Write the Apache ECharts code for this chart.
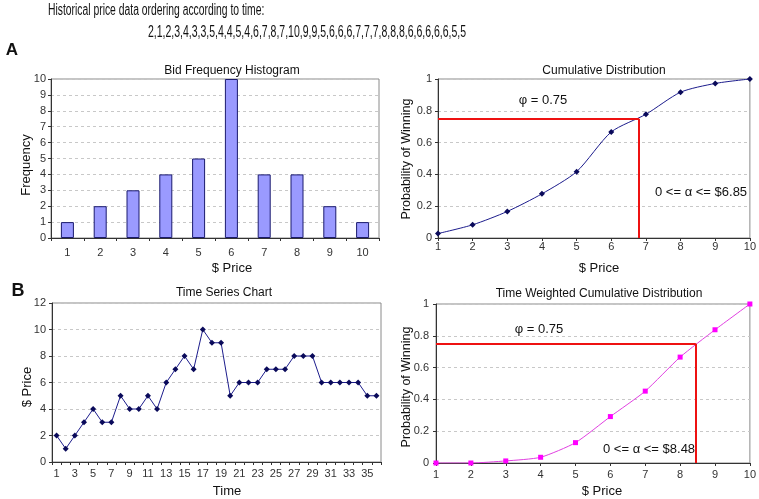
<!DOCTYPE html>
<html><head><meta charset="utf-8">
<script src="https://cdn.jsdelivr.net/npm/echarts@6/dist/echarts.min.js"></script>
<style>html,body{margin:0;padding:0;background:#fff}#c{width:759px;height:499px}</style>
</head><body><div id="c"></div>
<script>
const histCategories = ['1','2','3','4','5','6','7','8','9','10'];
const histFreq = [1,2,3,4,5,10,4,4,2,1];
const priceLevels = [1,2,3,4,5,6,7,8,9,10];
const cumProb = [0.028,0.083,0.167,0.278,0.417,0.667,0.778,0.917,0.972,1];
const timeLabels = ['1','2','3','4','5','6','7','8','9','10','11','12','13','14','15','16','17','18','19','20','21','22','23','24','25','26','27','28','29','30','31','32','33','34','35','36'];
const timePrices = [2,1,2,3,4,3,3,5,4,4,5,4,6,7,8,7,10,9,9,5,6,6,6,7,7,7,8,8,8,6,6,6,6,6,5,5];
const twCumProb = [0,0,0.013,0.036,0.128,0.292,0.452,0.666,0.838,1];
const phi = 0.75;
const alphaCum = 6.8;
const alphaTw = 8.45;
const headerText = 'Historical price data ordering according to time:';
const seqText = '2,1,2,3,4,3,3,5,4,4,5,4,6,7,8,7,10,9,9,5,6,6,6,7,7,7,8,8,8,6,6,6,6,6,5,5';

const FONT = '"Liberation Sans", Arial, sans-serif';
const grids = [
  {left:51, top:79, width:328, height:159},
  {left:438, top:79, width:320, height:159},
  {left:52, top:303, width:329, height:159},
  {left:436, top:304, width:321, height:159}
];
grids.forEach(g => { g.show = true; g.borderColor = '#8a8a8a'; g.borderWidth = 1; g.backgroundColor = 'transparent'; });

const axisLineStyle = {lineStyle:{color:'#333', width:1}};
const splitDash = {show:true, lineStyle:{color:'#c8c8c8', type:[3,3], width:1}};
const lbl = (margin) => ({color:'#333', fontSize:11, fontFamily:FONT, margin});

function pairs(xs, ys){ return xs.map((x,i)=>[x, ys[i]]); }

function redLines(a){
  return {
    silent:true, symbol:['none','none'], animation:false,
    label:{show:false},
    lineStyle:{color:'#ee1111', width:2, type:'solid'},
    data:[
      [{coord:[1, phi]},{coord:[a, phi]}],
      [{coord:[a, 0]},{coord:[a, phi]}]
    ]
  };
}

function txt(x, y, text, size, opts){
  opts = opts || {};
  return {
    type:'text', x, y, rotation: opts.rot || 0, scaleX: opts.sx || 1, scaleY: opts.sy || 1,
    style:{text, x:0, y:0, fill:'#111', font:(opts.bold?'bold ':'') + size + 'px ' + FONT,
      textAlign: opts.align || 'center', textVerticalAlign:'middle'}
  };
}

const option = {
  animation:false,
  grid: grids,
  xAxis: [
    {gridIndex:0, type:'category', data:histCategories, boundaryGap:true,
      axisLine:axisLineStyle, axisTick:{show:true, length:3, lineStyle:{color:'#333'}},
      axisLabel:lbl(9), splitLine:{show:false}},
    {gridIndex:1, type:'value', min:1, max:10, interval:1,
      axisLine:axisLineStyle, axisTick:{show:true, length:3, lineStyle:{color:'#333'}},
      axisLabel:lbl(3), splitLine:{show:false}},
    {gridIndex:2, type:'category', data:timeLabels, boundaryGap:true,
      axisLine:axisLineStyle, axisTick:{show:true, interval:0, length:3, lineStyle:{color:'#333'}},
      axisLabel:Object.assign(lbl(6), {interval:1}), splitLine:{show:false}},
    {gridIndex:3, type:'value', min:1, max:10, interval:1,
      axisLine:axisLineStyle, axisTick:{show:true, length:3, lineStyle:{color:'#333'}},
      axisLabel:lbl(6), splitLine:{show:false}}
  ],
  yAxis: [
    {gridIndex:0, type:'value', min:0, max:10, interval:1,
      axisLine:Object.assign({show:true}, axisLineStyle), axisTick:{show:true, length:3, lineStyle:{color:'#333'}},
      axisLabel:lbl(5), splitLine:splitDash},
    {gridIndex:1, type:'value', min:0, max:1, interval:0.2,
      axisLine:Object.assign({show:true}, axisLineStyle), axisTick:{show:true, length:3, lineStyle:{color:'#333'}},
      axisLabel:lbl(6), splitLine:splitDash},
    {gridIndex:2, type:'value', min:0, max:12, interval:2,
      axisLine:Object.assign({show:true}, axisLineStyle), axisTick:{show:true, length:3, lineStyle:{color:'#333'}},
      axisLabel:lbl(6), splitLine:splitDash},
    {gridIndex:3, type:'value', min:0, max:1, interval:0.2,
      axisLine:Object.assign({show:true}, axisLineStyle), axisTick:{show:true, length:3, lineStyle:{color:'#333'}},
      axisLabel:lbl(7), splitLine:splitDash}
  ],
  series: [
    {type:'bar', xAxisIndex:0, yAxisIndex:0, data:histFreq, barWidth:13,
      itemStyle:{color:'#9a9aff', borderColor:'#1a1a6e', borderWidth:1}},
    {type:'line', xAxisIndex:1, yAxisIndex:1, data:pairs(priceLevels, cumProb),
      smooth:0.25, symbol:'diamond', symbolSize:6, lineStyle:{color:'#1c1c8c', width:1},
      itemStyle:{color:'#0a0a5a'}, markLine:redLines(alphaCum)},
    {type:'line', xAxisIndex:2, yAxisIndex:2, data:timePrices,
      symbol:'diamond', symbolSize:6, lineStyle:{color:'#1c1c8c', width:1},
      itemStyle:{color:'#0a0a5a'}},
    {type:'line', xAxisIndex:3, yAxisIndex:3, data:pairs(priceLevels, twCumProb),
      smooth:0.2, symbol:'rect', symbolSize:5, lineStyle:{color:'#e040e0', width:1},
      itemStyle:{color:'#ff00ff'}, markLine:redLines(alphaTw)}
  ],
  graphic: [
    txt(48, 11, headerText, 16, {align:'left', sx:0.647}),
    txt(148, 33, seqText, 16, {align:'left', sx:0.656}),
    txt(12, 50, 'A', 17, {bold:true}),
    txt(18, 291, 'B', 18, {bold:true}),
    txt(232, 71, 'Bid Frequency Histogram', 12),
    txt(604, 71, 'Cumulative Distribution', 12),
    txt(224, 293, 'Time Series Chart', 12),
    txt(599, 294, 'Time Weighted Cumulative Distribution', 12),
    txt(26, 165, 'Frequency', 13, {rot:Math.PI/2}),
    txt(232, 268, '$ Price', 13),
    txt(407, 159, 'Probability of Winning', 12.5, {rot:Math.PI/2}),
    txt(599, 268, '$ Price', 13),
    txt(27, 387, '$ Price', 13, {rot:Math.PI/2}),
    txt(227, 491, 'Time', 13),
    txt(407, 387, 'Probability of Winning', 12.5, {rot:Math.PI/2}),
    txt(602, 491, '$ Price', 13),
    txt(543, 100, 'φ = 0.75', 13),
    txt(655, 192, '0 <= α <= $6.85', 13, {align:'left'}),
    txt(539, 329, 'φ = 0.75', 13),
    txt(603, 449, '0 <= α <= $8.48', 13, {align:'left'})
  ]
};
const chart = echarts.init(document.getElementById('c'), null, {renderer:'canvas'});
chart.setOption(option);
</script></body></html>
